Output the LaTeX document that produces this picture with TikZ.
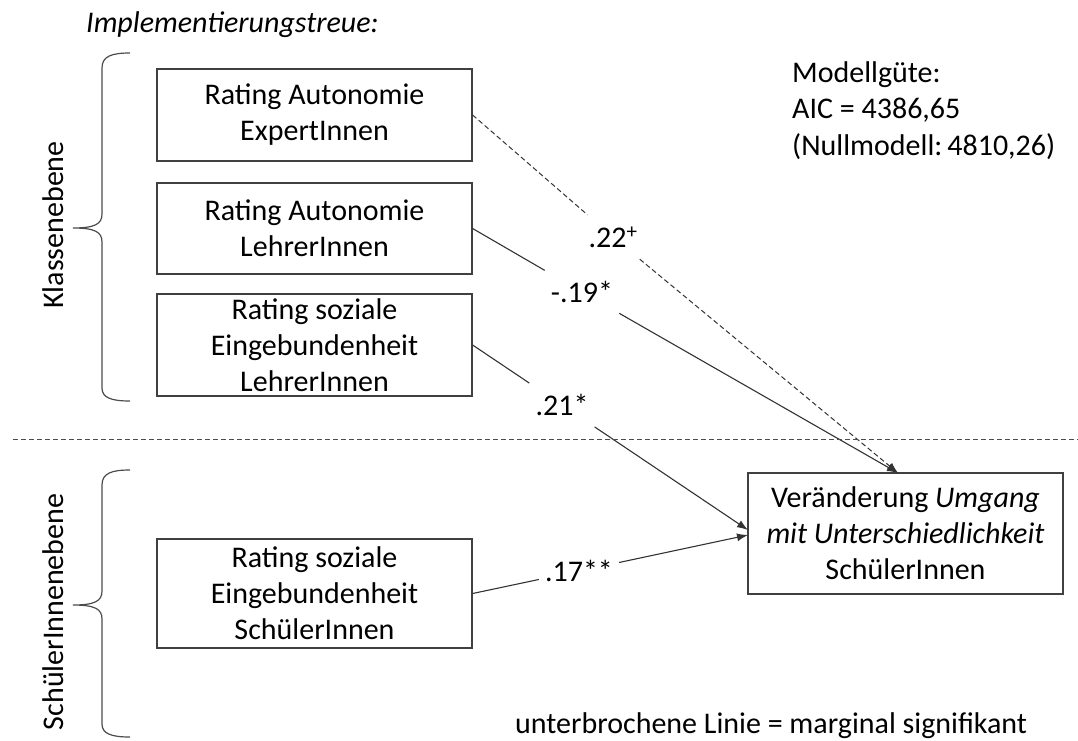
\documentclass[tikz,border=0pt]{standalone}
\usepackage{fontspec}
\setmainfont{Carlito}
\usetikzlibrary{arrows.meta,calc}
\begin{document}
\begin{tikzpicture}[x=1pt,y=-1pt,
  every node/.style={font=\fontsize{30}{36}\selectfont, text=black},
  box/.style={draw=black!75, line width=1.2pt, minimum width=315pt, align=center, inner sep=0pt},
  conn/.style={draw=black!80, line width=1.1pt, -{Latex[length=11pt,width=8pt]}},
  marg/.style={conn, dash pattern=on 5pt off 3pt, line width=1pt},
  lab/.style={inner sep=6pt, minimum height=44pt},
  brace/.style={draw=black!70, line width=1.2pt},
  sep/.style={draw=black!70, line width=1pt, dash pattern=on 5pt off 3pt}]
\useasboundingbox (0,0) rectangle (1078,740);

% title
\node[anchor=base west, inner sep=0pt] (title) at (86,32) {\itshape Implementierungstreue:};

% boxes
\node[box, minimum height=92pt]  (b1) at (314.5,115)   {Rating Autonomie\\ExpertInnen};
\node[box, minimum height=91pt]  (b2) at (314.5,228.5) {Rating Autonomie\\LehrerInnen};
\node[box, minimum height=102pt] (b3) at (314.5,345)   {Rating soziale\\Eingebundenheit\\LehrerInnen};
\node[box, minimum height=109pt] (b4) at (314.5,593.5) {Rating soziale\\Eingebundenheit\\SchülerInnen};
\node[box, minimum height=121pt] (tgt) at (905.5,533.5) {Veränderung \textit{Umgang}\\\textit{mit Unterschiedlichkeit}\\SchülerInnen};

% arrow end points on target
\coordinate (tA) at (898,473);
\coordinate (tB) at (748,530);
\coordinate (tC) at (748,535);

% coefficient labels
\node[lab] (l1) at (613,237) {.22\textsuperscript{+}};
\node[lab] (l2) at (582,292) {-.19*};
\node[lab] (l3) at (562,405) {.21*};
\node[lab] (l4) at (579,571) {.17**};

% connectors
\draw[marg] (b1.east) -- (l1) -- (tA);
\draw[conn] (b2.east) -- (l2) -- (tA);
\draw[conn] (b3.east) -- (l3) -- (tB);
\draw[conn] (b4.east) -- (l4) -- (tC);

% level separator
\draw[sep] (13,439) -- (1078,439);

% braces
\draw[brace] (130,53) .. controls (112,53) and (102,56) .. (102,68) -- (102,214)
  .. controls (102,224) and (95,228) .. (73,228)
  .. controls (95,228) and (102,232) .. (102,242) -- (102,388)
  .. controls (102,398) and (112,401) .. (130,401);
\draw[brace] (130,470) .. controls (112,470) and (102,473) .. (102,485) -- (102,591)
  .. controls (102,601) and (95,605) .. (73,605)
  .. controls (95,605) and (102,609) .. (102,619) -- (102,724)
  .. controls (102,734) and (112,737) .. (130,737);

% level names
\node[rotate=90, anchor=base, inner sep=0pt] (lk) at (63,225) {Klassenebene};
\node[rotate=90, anchor=base, inner sep=0pt] (ls) at (63,612) {SchülerInnenebene};

% model fit
\node[anchor=base west, inner sep=0pt] (m1) at (792,82)  {Modellgüte:};
\node[anchor=base west, inner sep=0pt] (m2) at (792,118) {AIC = 4386,65};
\node[anchor=base west, inner sep=0pt] (m3) at (792,155) {(Nullmodell:\,4810,26)};

% footer
\node[anchor=base west, inner sep=0pt] (foot) at (515,733) {unterbrochene Linie = marginal signifikant};
\end{tikzpicture}
\end{document}
